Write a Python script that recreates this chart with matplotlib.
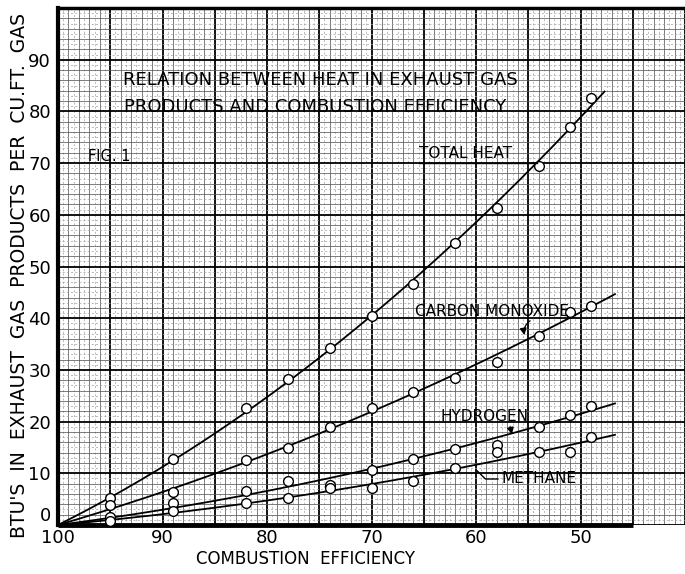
import numpy as np
import matplotlib.pyplot as plt

# combustion efficiency (%) where the readings were taken
eff = [95, 89, 82, 78, 74, 70, 66, 62, 58, 54, 51, 49]

# BTU per cu.ft. of gas
total_heat = [5.2, 12.8, 22.7, 28.3, 34.2, 40.5, 46.7, 54.6, 61.3, 69.4, 76.9, 82.6]
carbon_mono = [3.9, 6.4, 12.6, 14.9, 19.0, 22.7, 25.7, 28.5, 31.5, 36.6, 41.2, 42.4]
hydrogen = [1.5, 4.3, 6.6, 8.5, 7.7, 10.6, 12.8, 14.7, 15.5, 19.0, 21.3, 23.0]
methane = [0.8, 2.7, 4.3, 5.2, 7.1, 7.1, 8.5, 11.0, 14.1, 14.1, 14.1, 17.0]

series = [("TOTAL HEAT", total_heat, 47.7),
          ("CARBON MONOXIDE", carbon_mono, 46.7),
          ("HYDROGEN", hydrogen, 46.7),
          ("METHANE", methane, 46.7)]

fig = plt.figure(figsize=(6.85, 5.74), dpi=100)
ax = fig.add_axes([58/685, 1 - 525/574, 627/685, 517/574])
ax.set_xlim(100, 40)
ax.set_ylim(0, 100)

# graph paper
for v in np.arange(40, 100.01, 0.5):
    if v % 5 == 0:
        ax.axvline(v, color="black", lw=1.3, zorder=1)
    elif v % 1 == 0:
        ax.axvline(v, color="#5a5a5a", lw=0.55, zorder=1)
    else:
        ax.axvline(v, color="#a0a0a0", lw=0.5, ls=(0, (3, 3)), zorder=1)
for v in np.arange(0, 100.01, 1):
    if v % 10 == 0:
        ax.axhline(v, color="black", lw=1.3, zorder=1)
    elif v % 2 == 0:
        ax.axhline(v, color="#5a5a5a", lw=0.55, zorder=1)
    else:
        ax.axhline(v, color="#a0a0a0", lw=0.5, ls=(0, (3, 3)), zorder=1)

for s in ["right", "bottom"]:
    ax.spines[s].set_visible(False)
ax.spines["left"].set_linewidth(3)
ax.spines["top"].set_linewidth(2.5)
ax.hlines(0, 100, 45, color="black", lw=3.5, zorder=3, clip_on=False)

# curves: smooth fit through the origin (100 % efficiency)
for name, vals, xend in series:
    d = 100 - np.array(eff, dtype=float)
    A = np.column_stack([d, d**2])
    coef = np.linalg.lstsq(A, np.array(vals), rcond=None)[0]
    xs = np.linspace(100, xend, 200)
    ds = 100 - xs
    ax.plot(xs, coef[0]*ds + coef[1]*ds**2, color="black", lw=1.3, zorder=4)
    ax.plot(eff, vals, "o", ms=7, mfc="white", mec="black", mew=1.0, zorder=5)

ax.set_xticks([100, 90, 80, 70, 60, 50])
ax.set_yticks(range(0, 100, 10))
ax.tick_params(length=0, labelsize=13)
ax.tick_params(axis="y", pad=5)
ax.tick_params(axis="x", pad=3)
ax.get_yticklabels()[0].set_va("bottom")

txt = dict(color="black", zorder=6)
ax.text(74.9, 86.1, "RELATION BETWEEN HEAT IN EXHAUST GAS", ha="center", va="center",
        fontsize=13, **txt)
ax.text(75.4, 80.9, "PRODUCTS AND COMBUSTION EFFICIENCY", ha="center", va="center",
        fontsize=13, **txt)
ax.text(97.1, 71.2, "FIG. 1", ha="left", va="center", fontsize=10.5, **txt)

ax.text(65.5, 70.4, "TOTAL HEAT", ha="left", va="bottom", fontsize=11, **txt)
ax.plot([65.5, 54.2], [70.0, 70.0], color="black", lw=1.0, zorder=6)

ax.text(65.8, 41.2, "CARBON MONOXIDE", ha="left", va="center", fontsize=11, **txt)
ax.annotate("", xy=(55.3, 36.2), xytext=(54.6, 39.8),
            arrowprops=dict(arrowstyle="-|>", color="black", lw=0.9,
                            connectionstyle="arc3,rad=0.4"), zorder=6)

ax.text(63.4, 20.9, "HYDROGEN", ha="left", va="center", fontsize=11, **txt)
ax.annotate("", xy=(56.5, 17.0), xytext=(56.8, 19.6),
            arrowprops=dict(arrowstyle="-|>", color="black", lw=0.9), zorder=6)

ax.text(57.6, 8.9, "METHANE", ha="left", va="center", fontsize=11, **txt)
ax.plot([59.9, 59.1, 57.9], [10.5, 8.9, 8.9], color="black", lw=1.0, zorder=6)

fig.text(20/685, 1 - 275/574, "BTU'S  IN  EXHAUST  GAS  PRODUCTS  PER  CU.FT.  GAS",
         rotation=90, ha="center", va="center", fontsize=13.5)
fig.text(305/685, 1 - 559/574, "COMBUSTION  EFFICIENCY", ha="center", va="center",
         fontsize=12)

fig.savefig("out.png", dpi=100)
